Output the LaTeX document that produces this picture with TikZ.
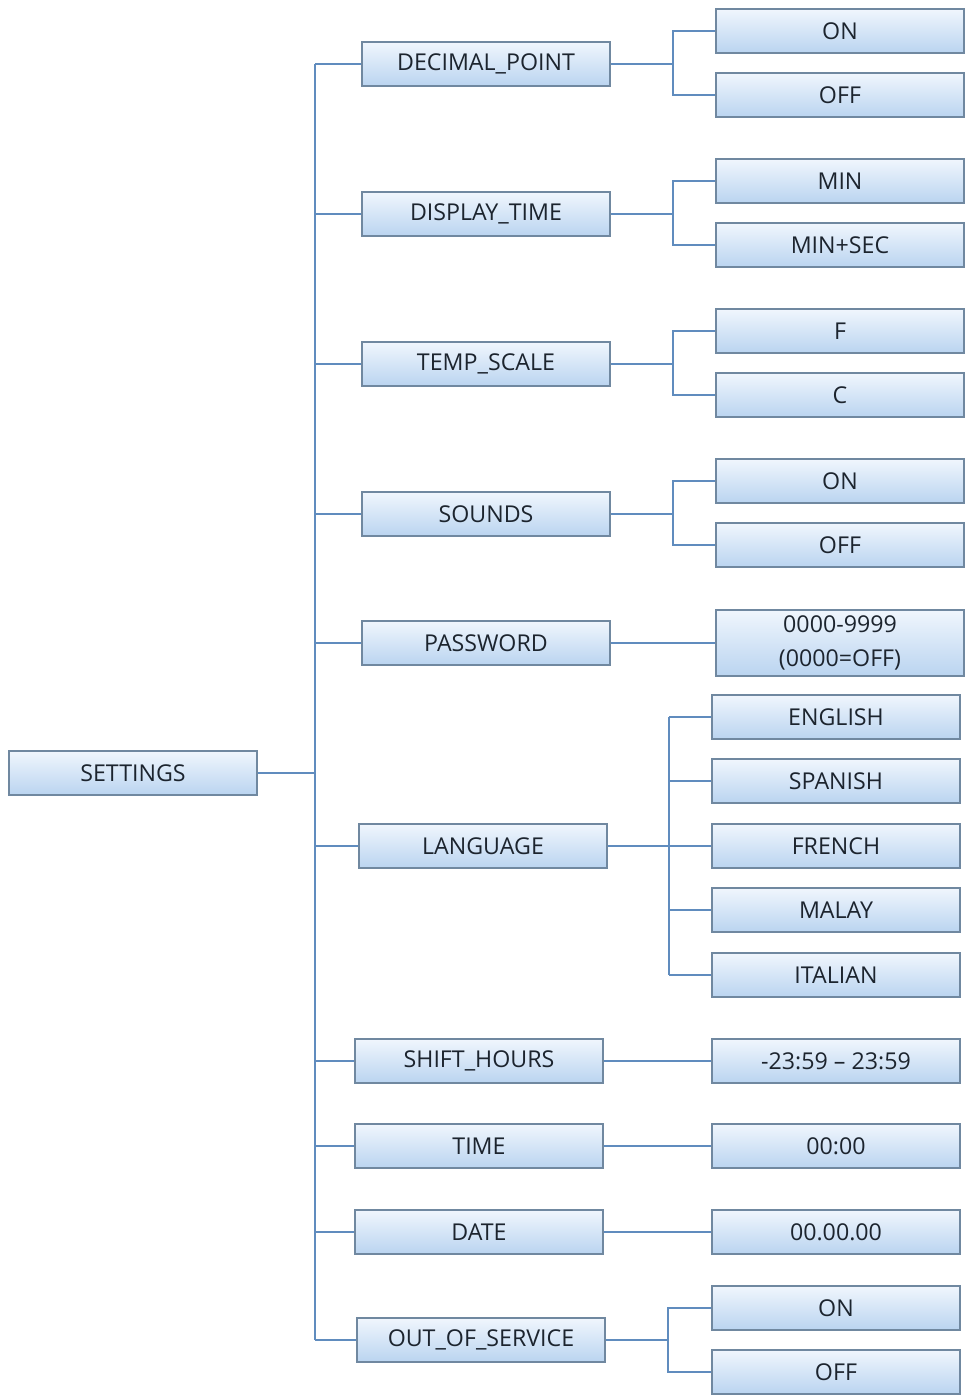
\documentclass[tikz,border=0pt]{standalone}
\usepackage{fontspec}
\setmainfont{Open Sans}
\usetikzlibrary{shadows}
\definecolor{boxtop}{RGB}{240,246,253}
\definecolor{boxbot}{RGB}{186,212,240}
\definecolor{boxline}{RGB}{112,136,160}
\definecolor{wire}{RGB}{96,140,190}
\definecolor{txt}{RGB}{28,36,46}
\tikzset{
  menu/.style={rectangle,draw=boxline,line width=1pt,top color=boxtop,bottom color=boxbot,
    minimum width=6.2cm,minimum height=1.1cm,inner sep=0pt,text=txt,align=center,
    font=\fontsize{16.5}{24}\selectfont,
    drop shadow={opacity=0.12,shadow xshift=0.6pt,shadow yshift=-0.8pt}},
  wire/.style={draw=wire,line width=1.1pt}
}

\begin{document}
\begin{tikzpicture}[x=0.025cm,y=-0.025cm]
\useasboundingbox(0,0)rectangle(967,1395);

% root
\node[menu](settings)at(133,773){SETTINGS};
\coordinate(trunk)at(315,773);

% first level
\node[menu](dp)at(486,64){DECIMAL\_POINT};
\node[menu](dt)at(486,214){DISPLAY\_TIME};
\node[menu](ts)at(486,364){TEMP\_SCALE};
\node[menu](snd)at(486,514){SOUNDS};
\node[menu](pw)at(486,643){PASSWORD};
\node[menu](lang)at(483,846){LANGUAGE};
\node[menu](sh)at(479,1061){SHIFT\_HOURS};
\node[menu](tm)at(479,1146){TIME};
\node[menu](dat)at(479,1232){DATE};
\node[menu](oos)at(481,1340){OUT\_OF\_SERVICE};

% second level
\node[menu](dpon)at(840,31){ON};
\node[menu](dpoff)at(840,95){OFF};
\node[menu](dtmin)at(840,181){MIN};
\node[menu](dtsec)at(840,245){MIN+SEC};
\node[menu](tsf)at(840,331){F};
\node[menu](tsc)at(840,395){C};
\node[menu](sndon)at(840,481){ON};
\node[menu](sndoff)at(840,545){OFF};
\node[menu,minimum height=1.65cm](pwv)at(840,643){0000-9999\\(0000=OFF)};
\node[menu](en)at(836,717){ENGLISH};
\node[menu](es)at(836,781){SPANISH};
\node[menu](fr)at(836,846){FRENCH};
\node[menu](ms)at(836,910){MALAY};
\node[menu](it)at(836,975){ITALIAN};
\node[menu](shv)at(836,1061){-23:59 -- 23:59};
\node[menu](tmv)at(836,1146){00:00};
\node[menu](datv)at(836,1232){00.00.00};
\node[menu](ooson)at(836,1308){ON};
\node[menu](oosoff)at(836,1372){OFF};

% trunk
\draw[wire](settings.east)--(trunk);
\draw[wire](dp.west-|trunk)--(oos.west-|trunk);
\draw[wire](dp.west)--(dp.west-|trunk);
\draw[wire](dt.west)--(dt.west-|trunk);
\draw[wire](ts.west)--(ts.west-|trunk);
\draw[wire](snd.west)--(snd.west-|trunk);
\draw[wire](pw.west)--(pw.west-|trunk);
\draw[wire](lang.west)--(lang.west-|trunk);
\draw[wire](sh.west)--(sh.west-|trunk);
\draw[wire](tm.west)--(tm.west-|trunk);
\draw[wire](dat.west)--(dat.west-|trunk);
\draw[wire](oos.west)--(oos.west-|trunk);

% branches
\draw[wire](dp.east)--(673,64)coordinate(dpb);
\draw[wire](dpb)|-(dpon.west);
\draw[wire](dpb)|-(dpoff.west);
\draw[wire](dt.east)--(673,214)coordinate(dtb);
\draw[wire](dtb)|-(dtmin.west);
\draw[wire](dtb)|-(dtsec.west);
\draw[wire](ts.east)--(673,364)coordinate(tsb);
\draw[wire](tsb)|-(tsf.west);
\draw[wire](tsb)|-(tsc.west);
\draw[wire](snd.east)--(673,514)coordinate(sndb);
\draw[wire](sndb)|-(sndon.west);
\draw[wire](sndb)|-(sndoff.west);
\draw[wire](pw.east)--(pwv.west);
\draw[wire](lang.east)--(669,846)coordinate(langb);
\draw[wire](en.west-|langb)--(it.west-|langb);
\draw[wire](langb|-en.west)--(en.west);
\draw[wire](langb|-es.west)--(es.west);
\draw[wire](langb|-fr.west)--(fr.west);
\draw[wire](langb|-ms.west)--(ms.west);
\draw[wire](langb|-it.west)--(it.west);
\draw[wire](sh.east)--(shv.west);
\draw[wire](tm.east)--(tmv.west);
\draw[wire](dat.east)--(datv.west);
\draw[wire](oos.east)--(668,1340)coordinate(oosb);
\draw[wire](oosb)|-(ooson.west);
\draw[wire](oosb)|-(oosoff.west);

\end{tikzpicture}
\end{document}
